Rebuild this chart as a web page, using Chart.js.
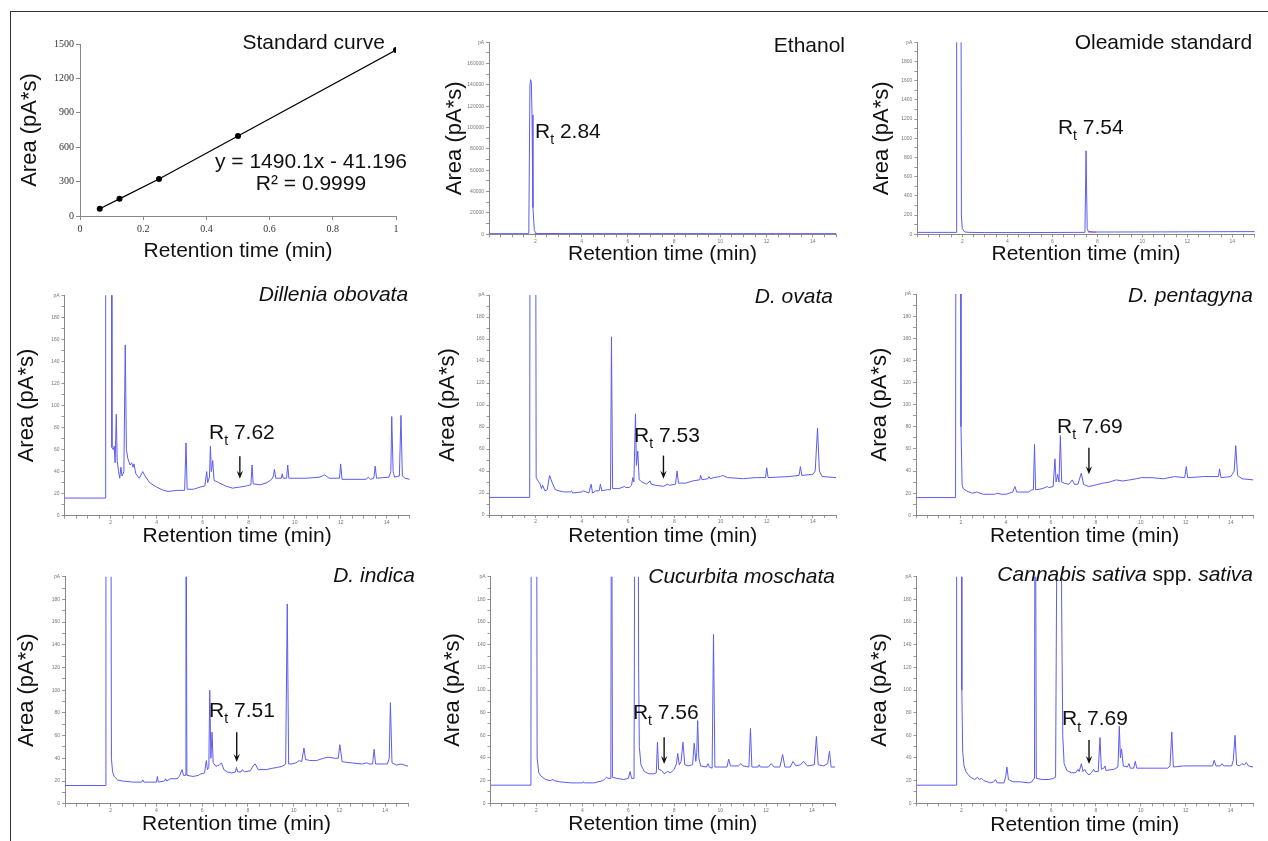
<!DOCTYPE html>
<html>
<head>
<meta charset="utf-8">
<title>Oleamide GC-FID chromatograms</title>
<script src="https://cdn.jsdelivr.net/npm/chart.js@4.4.1/dist/chart.umd.min.js"></script>
<style>
  html, body { margin: 0; padding: 0; background: #fff; }
  body { width: 1268px; height: 841px; position: relative; overflow: hidden; }
  #frame { position: absolute; left: 10px; top: 11px; width: 1258px; height: 832px;
           border-top: 1.5px solid #333; border-left: 1.5px solid #333; }
  canvas { position: absolute; }
</style>
</head>
<body>
<div id="frame"></div>
<canvas id="c1"></canvas>
<canvas id="c2"></canvas>
<canvas id="c3"></canvas>
<canvas id="c4"></canvas>
<canvas id="c5"></canvas>
<canvas id="c6"></canvas>
<canvas id="c7"></canvas>
<canvas id="c8"></canvas>
<canvas id="c9"></canvas>
<script>
// standard curve (x = concentration axis, labelled as in the figure)
const stdConc = [0.0625, 0.125, 0.25, 0.5, 1];
const stdArea = [63, 150, 323, 698, 1448];

// Ethanol blank
const ethanolTime   = [0, 1.72, 1.77, 1.8, 1.83, 1.86, 1.9, 1.96, 2.05, 15];
const ethanolSignal = [600, 600, 140000, 145000, 142000, 112000, 25000, 3500, 700, 600];
const ethanolBaseTime   = [1.97, 3.1];
const ethanolBaseSignal = [700, 700];

// Oleamide standard
const oleamideTime   = [0, 1.73, 1.75, 1.94, 1.96, 2.0, 2.1, 2.3, 3, 5, 7, 7.45, 7.5, 7.55, 7.6, 7.8, 9, 11, 13, 15];
const oleamideSignal = [20, 20, 3000, 3000, 190, 60, 25, 20, 18, 18, 20, 20, 870, 60, 30, 24, 24, 25, 27, 28];
const oleamideBaseTime   = [7.58, 7.95];
const oleamideBaseSignal = [23, 23];

// Dillenia obovata
const obovataTime = [0, 1.77, 1.79, 2.03, 2.06, 2.12, 2.16, 2.2, 2.25, 2.29, 2.35, 2.4, 2.45, 2.5, 2.58, 2.64, 2.69,
  2.75, 2.85, 2.92, 2.98, 3.02, 3.1, 3.25, 3.4, 3.5, 3.7, 4.0, 4.3, 4.5, 4.9, 5.22, 5.28, 5.33, 5.6, 5.9, 6.1,
  6.18, 6.22, 6.3, 6.34, 6.38, 6.44, 6.5, 6.7, 7.0, 7.3, 7.62, 7.9, 8.1, 8.15, 8.2, 8.5, 8.8, 9.0, 9.08, 9.12,
  9.18, 9.42, 9.46, 9.5, 9.65, 9.7, 9.75, 10.5, 11.1, 11.3, 11.5, 11.95, 12.0, 12.06, 13.1, 13.2, 13.3, 13.44,
  13.5, 13.56, 14.1, 14.18, 14.22, 14.28, 14.34, 14.55, 14.62, 14.68, 14.8, 15];
const obovataSignal = [16, 16, 400, 400, 62, 60, 63, 48, 92, 50, 40, 34, 44, 36, 40, 155, 60,
  52, 46, 48, 44, 47, 38, 34, 40, 36, 30, 26, 23, 22, 23, 23, 66, 24, 24, 26, 27,
  40, 30, 35, 63, 40, 50, 32, 30, 27, 25, 26, 27, 28, 46, 29, 28, 30, 33, 36, 42,
  34, 34, 38, 34, 34, 46, 34, 34, 35, 37, 34, 34, 47, 33, 33, 35, 33, 34,
  45, 34, 35, 40, 90, 40, 35, 36, 91, 36, 34, 33];

// D. ovata
const ovataTime = [0, 1.74, 1.76, 1.99, 2.02, 2.1, 2.2, 2.25, 2.3, 2.4, 2.5, 2.6, 2.7, 2.85, 3.0, 3.2, 3.5, 3.55,
  3.6, 4.0, 4.05, 4.3, 4.4, 4.46, 4.6, 4.75, 4.8, 4.86, 5.1, 5.24, 5.28, 5.33, 5.6, 5.85, 5.9, 6.05, 6.15, 6.2,
  6.25, 6.32, 6.36, 6.42, 6.48, 6.6, 6.8, 6.95, 7.0, 7.2, 7.53, 7.7, 7.8, 8.05, 8.12, 8.18, 8.5, 8.8, 9.1, 9.14,
  9.2, 9.45, 9.5, 9.55, 9.7, 10.0, 10.1, 10.3, 11.0, 11.5, 11.6, 11.95, 12.0, 12.06, 13.0, 13.4, 13.46, 13.52,
  14.0, 14.1, 14.2, 14.28, 14.4, 15];
const ovataSignal = [16, 16, 400, 400, 34, 31, 28, 24, 27, 22, 23, 36, 30, 23, 22, 21, 21, 22,
  20, 21, 22, 20, 28, 20, 22, 22, 28, 22, 23, 23, 162, 24, 24, 26, 25, 25, 27, 34,
  30, 92, 45, 58, 32, 30, 28, 31, 28, 27, 26, 28, 27, 28, 40, 29, 29, 31, 32, 36,
  32, 33, 35, 33, 34, 35, 36, 34, 33, 34, 34, 34, 43, 34, 35, 36, 44, 36,
  37, 40, 79, 40, 35, 34];

// D. pentagyna
const pentagynaTime = [0, 1.76, 1.78, 1.97, 2.0, 2.05, 2.1, 2.25, 2.5, 2.7, 3.0, 3.3, 3.5, 3.6, 3.8, 4.0, 4.3, 4.4,
  4.48, 4.8, 5.0, 5.15, 5.22, 5.27, 5.32, 5.6, 5.85, 5.9, 6.1, 6.18, 6.23, 6.3, 6.36, 6.42, 6.48, 6.6, 6.8, 6.95,
  7.05, 7.2, 7.35, 7.45, 7.55, 7.69, 7.9, 8.1, 8.3, 8.6, 8.9, 9.2, 9.5, 9.8, 10.0, 10.5, 11.0, 11.5, 11.95, 12.02,
  12.08, 12.8, 13.3, 13.45, 13.5, 13.56, 14.0, 14.15, 14.22, 14.3, 14.5, 15];
const pentagynaSignal = [16, 16, 400, 400, 80, 28, 24, 22, 20, 21, 19, 19, 19, 20, 19, 19, 21, 26,
  21, 21, 21, 23, 23, 64, 23, 24, 26, 25, 26, 51, 30, 37, 30, 72, 30, 29, 28, 32,
  28, 28, 38, 28, 27, 26, 27, 28, 29, 30, 32, 31, 32, 33, 34, 34, 33, 35, 34, 44,
  34, 35, 35, 35, 42, 34, 35, 40, 63, 36, 33, 32];

// D. indica
const indicaTime = [0, 1.77, 1.79, 2.0, 2.03, 2.08, 2.15, 2.3, 2.5, 3.0, 3.35, 3.4, 3.45, 3.8, 4.0, 4.04, 4.08,
  4.35, 4.4, 4.45, 4.6, 4.9, 5.0, 5.12, 5.18, 5.26, 5.29, 5.33, 5.6, 5.85, 5.9, 6.1, 6.18, 6.23, 6.29, 6.33,
  6.38, 6.43, 6.48, 6.6, 6.75, 6.84, 6.95, 7.1, 7.3, 7.45, 7.5, 7.55, 7.7, 7.75, 7.85, 8.1, 8.25, 8.32, 8.45,
  8.8, 9.0, 9.3, 9.5, 9.65, 9.72, 9.78, 9.9, 10.1, 10.25, 10.35, 10.45, 10.52, 10.7, 11.0, 11.3, 11.5, 11.8,
  11.95, 12.02, 12.12, 12.5, 13.0, 13.2, 13.3, 13.45, 13.52, 13.58, 14.1, 14.18, 14.23, 14.3, 14.5, 14.7, 15];
const indicaSignal = [16, 16, 400, 400, 40, 28, 24, 21, 20, 19, 19, 21, 19, 19, 19, 24, 19,
  20, 22, 20, 22, 22, 24, 30, 25, 25, 400, 25, 24, 25, 26, 27, 38, 30, 32, 100,
  40, 63, 36, 33, 34, 36, 30, 28, 27, 28, 32, 28, 28, 30, 28, 29, 34, 35, 30,
  30, 31, 32, 33, 35, 176, 35, 35, 36, 38, 37, 49, 39, 38, 38, 40, 41, 40,
  40, 52, 37, 36, 35, 36, 35, 35, 48, 35, 35, 40, 89, 36, 34, 35, 33];

// Cucurbita moschata
const moschataTime = [0, 1.76, 1.78, 2.0, 2.03, 2.1, 2.2, 2.4, 2.6, 2.72, 2.78, 3.0, 3.5, 4.0, 4.03, 4.1, 4.5,
  4.9, 5.05, 5.12, 5.24, 5.27, 5.31, 5.5, 5.8, 6.0, 6.08, 6.14, 6.25, 6.3, 6.42, 6.45, 6.48, 6.55, 6.7, 6.9,
  7.1, 7.22, 7.27, 7.32, 7.45, 7.56, 7.7, 7.85, 8.0, 8.1, 8.15, 8.22, 8.3, 8.38, 8.46, 8.6, 8.8, 8.87, 8.94,
  8.98, 9.02, 9.07, 9.15, 9.4, 9.47, 9.53, 9.65, 9.71, 9.77, 10.0, 10.3, 10.37, 10.45, 10.8, 10.9, 11.0, 11.25,
  11.32, 11.38, 11.65, 11.7, 11.75, 12.1, 12.22, 12.35, 12.6, 12.72, 12.82, 13.05, 13.17, 13.3, 13.5, 13.62,
  13.8, 14.1, 14.19, 14.27, 14.5, 14.68, 14.76, 14.83, 15];
const moschataSignal = [16, 16, 400, 400, 40, 27, 24, 21, 20, 21, 20, 19, 18, 18, 19, 18, 18,
  20, 23, 22, 22, 400, 23, 22, 21, 22, 28, 22, 22, 400, 400, 120, 50, 34, 28, 26,
  26, 27, 54, 30, 29, 26, 28, 27, 30, 35, 44, 34, 37, 54, 34, 33, 34, 53, 37,
  45, 73, 40, 33, 32, 35, 32, 31, 149, 32, 32, 32, 39, 33, 33, 35, 33, 32,
  66, 32, 32, 34, 32, 32, 35, 32, 32, 43, 32, 32, 37, 33, 34, 37,
  33, 34, 59, 34, 33, 35, 46, 32, 32];

// Cannabis sativa spp. sativa
const cannabisTime = [0, 1.77, 1.79, 2.0, 2.02, 2.06, 2.12, 2.2, 2.4, 2.6, 2.72, 2.8, 2.9, 3.0, 3.3, 3.45, 3.52,
  3.6, 3.9, 3.98, 4.03, 4.1, 4.3, 4.6, 5.0, 5.15, 5.2, 5.26, 5.29, 5.34, 5.6, 5.9, 6.1, 6.2, 6.3, 6.44, 6.47,
  6.52, 6.58, 6.7, 6.9, 7.1, 7.2, 7.25, 7.35, 7.42, 7.5, 7.58, 7.69, 7.8, 7.9, 7.95, 8.1, 8.18, 8.24, 8.35,
  8.4, 8.45, 8.8, 8.98, 9.04, 9.09, 9.14, 9.22, 9.4, 9.47, 9.53, 9.68, 9.75, 9.82, 10.2, 10.8, 11.2, 11.3,
  11.38, 11.45, 11.9, 12.0, 12.5, 13.0, 13.2, 13.27, 13.35, 13.55, 13.62, 13.7, 14.05, 14.12, 14.2, 14.27,
  14.4, 14.5, 14.62, 14.7, 14.8, 15];
const cannabisSignal = [16, 16, 400, 400, 100, 45, 33, 28, 23, 21, 23, 21, 22, 20, 18, 19, 21,
  18, 18, 24, 32, 21, 19, 19, 18, 19, 21, 22, 400, 22, 21, 21, 22, 23, 400, 400, 175,
  60, 35, 29, 27, 27, 30, 28, 35, 28, 30, 27, 25, 27, 30, 28, 28, 58, 30, 31,
  33, 29, 30, 32, 68, 40, 48, 33, 32, 35, 31, 31, 37, 31, 31, 31, 31, 33,
  63, 32, 33, 33, 33, 33, 33, 38, 33, 33, 35, 33, 33, 38, 60, 34,
  33, 35, 34, 36, 33, 32];

const FONT = 'Arial, "Liberation Sans", Helvetica, sans-serif';
const SERIF = '"Times New Roman", "Liberation Serif", serif';
const TRACE = '#5c5cf0';
const INTEGRATION = '#e0508c';

Chart.defaults.font.family = FONT;

function toPoints(xs, ys) {
    return xs.map((x, i) => ({ x: x, y: ys[i] }));
}

// inline plugin that writes panel names, R_t labels and arrows in data units
function notes(items) {
    return {
        id: 'notes',
        afterDatasetsDraw(chart) {
            const ctx = chart.ctx;
            const xs = chart.scales.x;
            const ys = chart.scales.y;
            items.forEach(item => {
                const px = xs.getPixelForValue(item.x);
                ctx.save();
                ctx.fillStyle = '#111';
                ctx.strokeStyle = '#111';
                if (item.kind === 'arrow') {
                    const y1 = ys.getPixelForValue(item.from);
                    const y2 = ys.getPixelForValue(item.to);
                    ctx.lineWidth = 1.4;
                    ctx.beginPath();
                    ctx.moveTo(px, y1);
                    ctx.lineTo(px, y2 - 4);
                    ctx.stroke();
                    ctx.beginPath();
                    ctx.moveTo(px - 3.2, y2 - 8);
                    ctx.lineTo(px, y2);
                    ctx.lineTo(px + 3.2, y2 - 8);
                    ctx.lineTo(px, y2 - 5);
                    ctx.closePath();
                    ctx.fill();
                } else {
                    const py = ys.getPixelForValue(item.y);
                    ctx.textBaseline = 'middle';
                    ctx.textAlign = 'left';
                    const fonts = item.parts.map(p => (p.italic ? 'italic ' : '') + (p.size || 21) + 'px ' + FONT);
                    const widths = item.parts.map((p, i) => {
                        ctx.font = fonts[i];
                        return ctx.measureText(p.text).width;
                    });
                    const total = widths.reduce((a, b) => a + b, 0);
                    let cx = px;
                    if (item.align === 'right') cx = px - total;
                    if (item.align === 'center') cx = px - total / 2;
                    item.parts.forEach((p, i) => {
                        ctx.font = fonts[i];
                        ctx.fillText(p.text, cx, py + (p.dy || 0));
                        cx += widths[i];
                    });
                }
                ctx.restore();
            });
        }
    };
}

const heading = (x, y, parts) => ({ kind: 'text', x: x, y: y, align: 'right', parts: parts });
const rtLabel = (x, y, value) => ({ kind: 'text', x: x, y: y, align: 'left',
    parts: [{ text: 'R', size: 21 }, { text: 't', size: 14, dy: 8 }, { text: ' ' + value, size: 21 }] });
const arrow = (x, from, to) => ({ kind: 'arrow', x: x, from: from, to: to });

// size and position a canvas so that its plot area lands on g.plot = [left, top, right, bottom]
function place(id, g) {
    const canvas = document.getElementById(id);
    const left = Math.round(g.yTitleX - 13.2);
    const top = Math.round(g.plot[1] - 22);
    const right = Math.round(g.plot[2] + 14);
    const bottom = Math.round(g.xTitleY + 12.6);
    canvas.width = right - left;
    canvas.height = bottom - top;
    canvas.style.left = left + 'px';
    canvas.style.top = top + 'px';
    return {
        ctx: canvas.getContext('2d'),
        padL: g.plot[0] - left,
        padT: g.plot[1] - top,
        padR: right - g.plot[2],
        padB: bottom - g.plot[3]
    };
}

function axisTitle(text, size) {
    return { display: true, text: text, font: { size: size }, color: '#111', padding: 0 };
}

function chromatogram(id, g, time, signal, yMax, yStep, items, baseTime, baseSignal) {
    const box = place(id, g);
    const datasets = [{
        data: toPoints(time, signal),
        showLine: true,
        borderColor: TRACE,
        borderWidth: 1,
        borderJoinStyle: 'round',
        pointRadius: 0
    }];
    if (baseTime) {
        datasets.push({
            data: toPoints(baseTime, baseSignal),
            showLine: true,
            borderColor: INTEGRATION,
            borderWidth: 1,
            pointRadius: 0
        });
    }
    return new Chart(box.ctx, {
        type: 'scatter',
        data: { datasets: datasets },
        options: {
            responsive: false,
            animation: false,
            events: [],
            layout: { padding: { left: 0, top: box.padT, right: box.padR, bottom: 0 } },
            plugins: { legend: { display: false }, tooltip: { enabled: false } },
            scales: {
                x: {
                    type: 'linear', min: 0, max: 15,
                    afterFit: s => { s.height = box.padB; },
                    ticks: {
                        stepSize: 0.5, autoSkip: false, maxRotation: 0, padding: 1,
                        font: { size: 5 }, color: '#777',
                        callback: v => (v > 0 && v % 2 === 0) ? String(v) : ''
                    },
                    grid: { drawOnChartArea: false, tickLength: 3, color: '#999' },
                    border: { color: '#888' },
                    title: axisTitle('Retention time (min)', 21)
                },
                y: {
                    type: 'linear', min: 0, max: yMax,
                    afterFit: s => { s.width = box.padL; },
                    ticks: {
                        stepSize: yStep, autoSkip: false, padding: 2,
                        font: { size: 5 }, color: '#777',
                        callback: v => v === yMax ? 'pA' : (v % (2 * yStep) === 0 ? String(v) : '')
                    },
                    grid: { drawOnChartArea: false, tickLength: 3, color: '#999' },
                    border: { color: '#888' },
                    title: axisTitle('Area (pA*s)', 22)
                }
            }
        },
        plugins: [notes(items)]
    });
}

// panel 1: standard curve
(function () {
    const box = place('c1', { plot: [80, 44, 396, 216], yTitleX: 30, xTitleY: 251.7 });
    new Chart(box.ctx, {
        type: 'scatter',
        data: {
            datasets: [{
                data: toPoints(stdConc, stdArea),
                showLine: true,
                borderColor: '#000',
                borderWidth: 1.3,
                pointRadius: 3,
                pointBackgroundColor: '#000',
                pointBorderWidth: 0
            }]
        },
        options: {
            responsive: false,
            animation: false,
            events: [],
            layout: { padding: { left: 0, top: box.padT, right: box.padR, bottom: 0 } },
            plugins: { legend: { display: false }, tooltip: { enabled: false } },
            scales: {
                x: {
                    type: 'linear', min: 0, max: 1,
                    afterFit: s => { s.height = box.padB; },
                    ticks: { stepSize: 0.2, autoSkip: false, maxRotation: 0, padding: 3,
                             font: { size: 10, family: SERIF }, color: '#333',
                             callback: v => String(Math.round(v * 10) / 10) },
                    grid: { drawOnChartArea: false, tickLength: 4, color: '#888' },
                    border: { color: '#888' },
                    title: axisTitle('Retention time (min)', 21)
                },
                y: {
                    type: 'linear', min: 0, max: 1500,
                    afterFit: s => { s.width = box.padL; },
                    ticks: { stepSize: 300, autoSkip: false, padding: 2,
                             font: { size: 10, family: SERIF }, color: '#333',
                             callback: v => String(v) },
                    grid: { drawOnChartArea: false, tickLength: 4, color: '#888' },
                    border: { color: '#888' },
                    title: axisTitle('Area (pA*s)', 22)
                }
            }
        },
        plugins: [notes([
            heading(0.965, 1510, [{ text: 'Standard curve' }]),
            { kind: 'text', x: 0.731, y: 471, align: 'center', parts: [{ text: 'y = 1490.1x - 41.196' }] },
            { kind: 'text', x: 0.731, y: 279, align: 'center', parts: [{ text: 'R\u00B2 = 0.9999' }] }
        ])]
    });
})();

chromatogram('c2', { plot: [489, 42.3, 836, 234.3], yTitleX: 455, xTitleY: 254 },
    ethanolTime, ethanolSignal, 180000, 10000,
    [heading(15.39, 176500, [{ text: 'Ethanol' }]), rtLabel(1.99, 95900, '2.84')],
    ethanolBaseTime, ethanolBaseSignal);

chromatogram('c3', { plot: [917.3, 42.3, 1254.8, 234.3], yTitleX: 881.7, xTitleY: 254 },
    oleamideTime, oleamideSignal, 2000, 100,
    [heading(14.88, 1993, [{ text: 'Oleamide standard' }]), rtLabel(6.25, 1107, '7.54')],
    oleamideBaseTime, oleamideBaseSignal);

chromatogram('c4', { plot: [64.5, 295.3, 409.7, 515.7], yTitleX: 26.7, xTitleY: 536 },
    obovataTime, obovataSignal, 200, 10,
    [heading(14.93, 200, [{ text: 'Dillenia obovata', italic: true }]), rtLabel(6.28, 75, '7.62'), arrow(7.62, 54, 33.5)]);

chromatogram('c5', { plot: [489.5, 295, 836, 515], yTitleX: 448, xTitleY: 536.7 },
    ovataTime, ovataSignal, 200, 10,
    [heading(14.87, 198, [{ text: 'D. ovata', italic: true }]), rtLabel(6.26, 72, '7.53'), arrow(7.53, 54, 33)]);

chromatogram('c6', { plot: [916, 294, 1253.3, 515.3], yTitleX: 880, xTitleY: 536 },
    pentagynaTime, pentagynaSignal, 200, 10,
    [heading(14.98, 198, [{ text: 'D. pentagyna', italic: true }]), rtLabel(6.27, 80, '7.69'), arrow(7.69, 61, 37)]);

chromatogram('c7', { plot: [65, 576.7, 408, 803.7], yTitleX: 26.7, xTitleY: 824.3 },
    indicaTime, indicaSignal, 200, 10,
    [heading(15.3, 200.6, [{ text: 'D. indica', italic: true }]), rtLabel(6.3, 81.7, '7.51'), arrow(7.51, 63, 36.7)]);

chromatogram('c8', { plot: [490.5, 576.7, 835, 803.3], yTitleX: 453, xTitleY: 824.3 },
    moschataTime, moschataSignal, 200, 10,
    [heading(15.0, 199.7, [{ text: 'Cucurbita moschata', italic: true }]), rtLabel(6.2, 79.4, '7.56'), arrow(7.56, 58.4, 34.6)]);

chromatogram('c9', { plot: [916.5, 576.7, 1253, 803.3], yTitleX: 880, xTitleY: 825 },
    cannabisTime, cannabisSignal, 200, 10,
    [heading(15.0, 201, [{ text: 'Cannabis sativa', italic: true }, { text: ' spp. ' }, { text: 'sativa', italic: true }]),
     rtLabel(6.49, 73.8, '7.69'), arrow(7.69, 55.8, 34.6)]);
</script>
</body>
</html>
